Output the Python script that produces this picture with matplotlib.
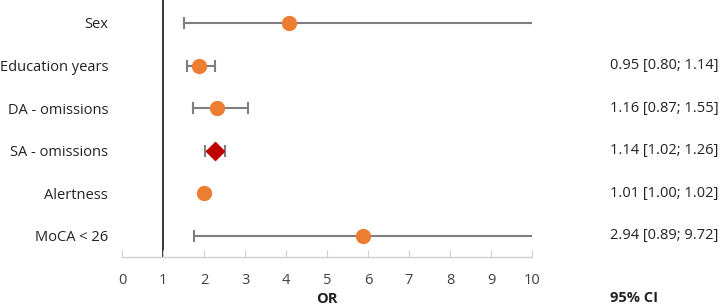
import numpy as np
import matplotlib
matplotlib.use("Agg")
import matplotlib.pyplot as plt
import matplotlib.transforms as mtransforms

plt.rcParams['font.family'] = ['Open Sans', 'DejaVu Sans']

labels = ["Sex", "Education years", "DA - omissions", "SA - omissions", "Alertness", "MoCA < 26"]
points = [4.07, 1.89, 2.31, 2.27, 2.0, 5.88]
ci_low = [1.52, 1.59, 1.72, 2.02, np.nan, 1.76]
ci_high = [10.0, 2.28, 3.08, 2.50, np.nan, 10.0]
ci_open_right = [True, False, False, False, False, True]
markers = ["o", "o", "o", "D", "o", "o"]
ci_text = ["", "0.95 [0.80; 1.14]", "1.16 [0.87; 1.55]", "1.14 [1.02; 1.26]",
           "1.01 [1.00; 1.02]", "2.94 [0.89; 9.72]"]
xticks = list(range(0, 11))

fs = 10.5

fig = plt.figure(figsize=(7.2, 3.06), dpi=100)
ax = fig.add_axes([122/720, 1-257/306, 410/720, 257/306])

n = len(labels)
ys = np.arange(n, 0, -1)

gray = "#7f7f7f"
orange = "#ED7D31"
red = "#C00000"

ax.axvline(1, color="black", lw=1.1, zorder=1)

for i in range(n):
    y = ys[i]
    if not np.isnan(ci_low[i]):
        ax.hlines(y, ci_low[i], ci_high[i], color=gray, lw=1.5, zorder=2)
        ax.plot([ci_low[i]], [y], marker="|", ms=9, mew=1.5, color=gray, zorder=2)
        if not ci_open_right[i]:
            ax.plot([ci_high[i]], [y], marker="|", ms=9, mew=1.5, color=gray, zorder=2)
    if markers[i] == "D":
        ax.plot([points[i]], [y], marker="D", ms=9, color=red, mec=red, zorder=3)
    else:
        ax.plot([points[i]], [y], marker="o", ms=10, color=orange, mec=orange, zorder=3)

ax.set_xlim(0, 10)
ax.set_ylim(0.5, 6.54)
ax.set_xticks(xticks)
ax.set_xticklabels([str(t) for t in xticks], fontsize=fs, color="#404040")
ax.set_yticks(ys)
ax.set_yticklabels(labels, fontsize=fs, color="#222222")
ax.tick_params(axis="y", length=0, pad=10)
ax.tick_params(axis="x", direction="in", length=5, color="#d0d0d0", pad=11.5)

for s in ["top", "right", "left"]:
    ax.spines[s].set_visible(False)
ax.spines["bottom"].set_color("#d0d0d0")
ax.spines["bottom"].set_linewidth(1.0)

ax.set_xlabel("OR", fontsize=fs, fontweight="bold", labelpad=3, color="#222222")

trans = mtransforms.blended_transform_factory(fig.transFigure, ax.transData)
for i in range(n):
    if ci_text[i]:
        ax.text(610/720, ys[i], ci_text[i], transform=trans, fontsize=fs,
                ha="left", va="center", color="#222222")
fig.text(610/720, 1-298/306, "95% CI", fontsize=fs, fontweight="bold",
         ha="left", va="center", color="#222222")

fig.savefig("out.png", dpi=100)
